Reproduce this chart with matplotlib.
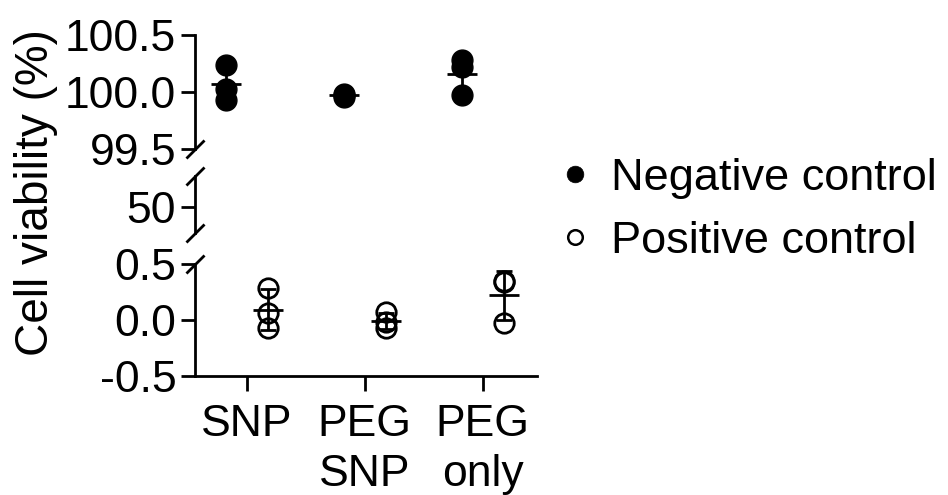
import numpy as np
import matplotlib.pyplot as plt
from matplotlib.lines import Line2D

plt.rcParams['font.family'] = ['Liberation Sans', 'DejaVu Sans']

# data
categories = ['SNP', 'PEG\nSNP', 'PEG\nonly']
negative_control = [[100.24, 100.03, 99.93],
                    [99.98, 99.96, 99.97],
                    [100.28, 100.22, 99.97]]
positive_control = [[0.29, 0.06, -0.07],
                    [0.07, -0.02, -0.07],
                    [0.35, 0.34, -0.03]]
series_labels = ['Negative control', 'Positive control']

top_ticks = [99.5, 100.0, 100.5]
mid_ticks = [50]
bot_ticks = [-0.5, 0.0, 0.5]

LW = 2.0
FS = 32

fig = plt.figure(figsize=(9.48, 4.95), dpi=100)
left, width = 0.2057, 0.3608
ax_top = fig.add_axes([left, 0.699, width, 0.230])
ax_mid = fig.add_axes([left, 0.529, width, 0.115])
ax_bot = fig.add_axes([left, 0.2404, width, 0.2263])
axes = [ax_top, ax_mid, ax_bot]

x = np.arange(len(categories))
dodge = 0.18


def draw_group(ax, values, offset, filled):
    for i, vals in enumerate(values):
        xs = np.full(len(vals), x[i] + offset)
        if filled:
            ax.plot(xs, vals, 'o', ms=15, mfc='black', mec='black',
                    mew=1, ls='none', zorder=2)
        else:
            ax.plot(xs, vals, 'o', ms=14, mfc='none', mec='black',
                    mew=2, ls='none', zorder=2)
        m = np.mean(vals)
        sd = np.std(vals, ddof=1)
        ax.errorbar(x[i] + offset, m, yerr=sd, fmt='_', color='black',
                    ms=22, mew=LW, elinewidth=LW, capsize=6, capthick=LW,
                    zorder=3)


for ax in axes:
    draw_group(ax, negative_control, -dodge, True)
    draw_group(ax, positive_control, dodge, False)
    ax.set_xlim(-0.44, 2.46)
    for s in ['top', 'right']:
        ax.spines[s].set_visible(False)
    for s in ['left', 'bottom']:
        ax.spines[s].set_linewidth(LW)
    ax.tick_params(axis='y', direction='out', length=10, width=LW,
                   labelsize=FS, pad=3.5)
    ax.patch.set_alpha(0)

ax_top.set_ylim(99.5, 100.5)
ax_top.set_yticks(top_ticks)
ax_top.set_yticklabels(['%.1f' % t for t in top_ticks])
ax_mid.set_ylim(45.4, 55.4)
ax_mid.set_yticks(mid_ticks)
ax_bot.set_ylim(-0.5, 0.5)
ax_bot.set_yticks(bot_ticks)
ax_bot.set_yticklabels(['%.1f' % t for t in bot_ticks])

for ax in [ax_top, ax_mid]:
    ax.spines['bottom'].set_visible(False)
    ax.set_xticks([])

ax_bot.set_xticks(x)
ax_bot.set_xticklabels(categories, linespacing=1.3)
ax_bot.tick_params(axis='x', direction='out', length=11, width=LW,
                   labelsize=FS, pad=9)

# break marks on the y axis
brk = dict(marker=[(-1, -1), (1, 1)], ms=13, mew=LW, color='black',
           ls='none', clip_on=False, zorder=5)
ax_top.plot([0], [0], transform=ax_top.transAxes, **brk)
ax_mid.plot([0, 0], [0, 1], transform=ax_mid.transAxes, **brk)
ax_bot.plot([0], [1], transform=ax_bot.transAxes, **brk)

fig.text(0.038, 0.61, 'Cell viability (%)', rotation=90, ha='center',
         va='center', fontsize=FS + 1)

handles = [Line2D([], [], marker='o', ls='none', ms=12, mfc='black',
                  mec='black', mew=0.5),
           Line2D([], [], marker='o', ls='none', ms=10.5, mfc='none',
                  mec='black', mew=1.8)]
fig.legend(handles, series_labels, loc='center left',
           bbox_to_anchor=(0.549, 0.576), frameon=False, fontsize=FS + 0.5,
           handlelength=0.6, handletextpad=0.5, labelspacing=0.5)

fig.savefig('out.png', dpi=100)
